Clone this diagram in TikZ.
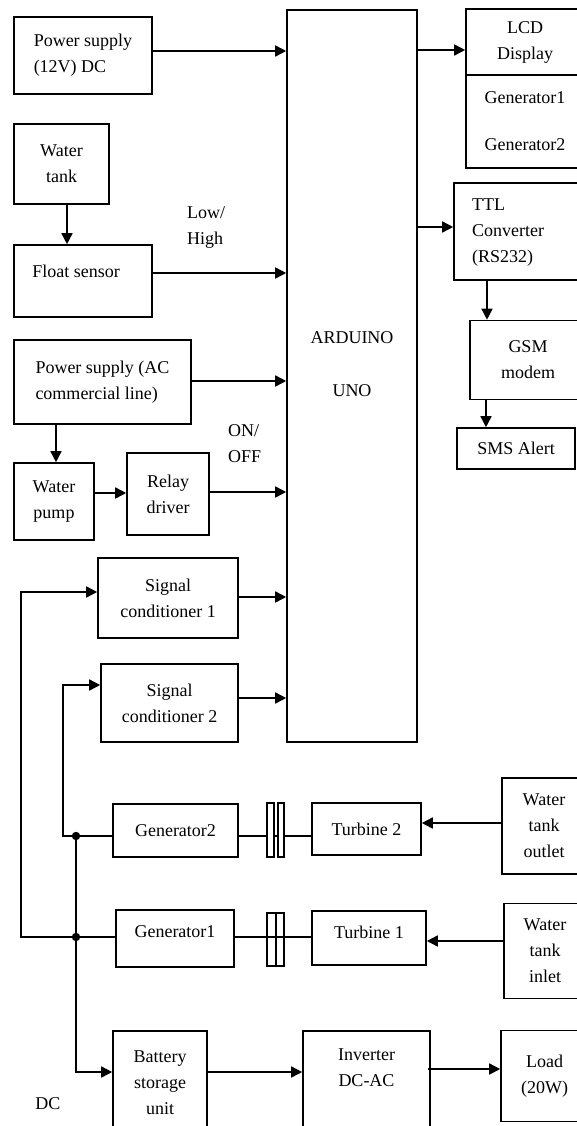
\documentclass[tikz,border=0pt]{standalone}
\usepackage{fontspec}
\setmainfont{Liberation Serif}
\usetikzlibrary{arrows.meta}
\newcommand\dfont{\fontsize{18}{26}\selectfont}
\begin{document}
\begin{tikzpicture}[x=1pt,y=-1pt,
  box/.style={draw, line width=1.6pt, inner sep=0pt, align=center, font=\dfont},
  txt/.style={inner sep=0pt, font=\dfont},
  cpl/.style={draw, line width=1.3pt, inner sep=0pt},
  wire/.style={line width=1.6pt},
  arr/.style={line width=1.6pt, -{Triangle[length=11pt,width=11pt]}}]
\useasboundingbox (0,0) rectangle (577,1126);
\clip (0,0) rectangle (577,1126);

% left column
\node[box, minimum width=138, minimum height=77, align=left] (ps1) at (83,55.5) {Power supply\\(12V) DC};
\node[box, minimum width=130, minimum height=732] (ard) at (352,376) {};
\node[txt] (ardt1) at (352,338) {ARDUINO};
\node[txt] (ardt2) at (352,391) {UNO};
\node[box, minimum width=95, minimum height=80] (wt) at (61.5,164) {Water\\tank};
\node[box, minimum width=138, minimum height=72] (fs) at (83,281) {};
\node[txt] (fst) at (76,271) {Float sensor};
\node[txt, align=left, anchor=west] (lh) at (187,228) {Low/\\High};
\node[box, minimum width=177, minimum height=84, align=left] (psac) at (102.5,382) {Power supply (AC\\commercial line)};
\node[box, minimum width=80, minimum height=77] (wp) at (54,501.5) {Water\\pump};
\node[box, minimum width=82, minimum height=82] (rd) at (168,494) {Relay\\driver};
\node[txt, align=left, anchor=west] (onoff) at (228,444) {ON/\\OFF};
\node[box, minimum width=140, minimum height=80] (sc1) at (168,598) {Signal\\conditioner 1};
\node[box, minimum width=137, minimum height=78] (sc2) at (169.5,703) {Signal\\conditioner 2};
\node[box, minimum width=125, minimum height=53] (g2) at (175.5,830.5) {Generator2};
\node[box, minimum width=118, minimum height=57] (g1) at (175,938.5) {};
\node[txt] (g1t) at (175,932) {Generator1};
\node[box, minimum width=109, minimum height=52] (t2) at (366.5,829) {Turbine 2};
\node[box, minimum width=114, minimum height=54] (t1) at (369,938) {};
\node[txt] (t1t) at (369,932) {Turbine 1};
\node[box, minimum width=84, minimum height=96] (wto) at (544,826) {Water\\tank\\outlet};
\node[box, minimum width=82, minimum height=95] (wti) at (545,951) {Water\\tank\\inlet};
\node[box, minimum width=94, minimum height=104] (bat) at (160,1083) {Battery\\storage\\unit};
\node[txt] (dc) at (48,1104) {DC};
\node[box, minimum width=127, minimum height=104] (inv) at (366.5,1083) {};
\node[txt, align=center] (invt) at (366.5,1068) {Inverter\\DC-AC};
\node[box, minimum width=87, minimum height=91] (load) at (544.5,1076) {Load\\(20W)};

% right column
\node[box, minimum width=118, minimum height=66] (lcdt) at (525,42) {LCD\\Display};
\node[box, minimum width=118, minimum height=93] (lcdb) at (525,121.5) {Generator1\\[21pt]Generator2};
\node[box, minimum width=134, minimum height=97] (ttl) at (521,231.5) {};
\node[txt, align=left, anchor=west] (ttlt) at (472,233) {TTL\\Converter\\(RS232)};
\node[box, minimum width=116, minimum height=79] (gsm) at (528,360) {GSM\\modem};
\node[box, minimum width=118, minimum height=41] (sms) at (516,448.5) {SMS Alert};

% couplings
\draw[wire] ([yshift=1.5]g1.east) -- ([yshift=1.5]g1.east -| t1.west);
\node[cpl, fill=white, minimum width=7, minimum height=54] (c2a) at (270.5,830) {};
\node[cpl, fill=white, minimum width=6, minimum height=54] (c2b) at (281,830) {};
\node[cpl, minimum width=9, minimum height=53] (c1a) at (271.5,939.5) {};
\node[cpl, minimum width=8, minimum height=53] (c1b) at (280,939.5) {};
\draw[wire] ([yshift=-5.5]g2.east) -- ([yshift=-5.5]g2.east -| c2a.west);
\draw[wire] ([yshift=-5.5]g2.east -| c2a.east) -- ([yshift=-5.5]g2.east -| c2b.west);
\draw[wire] ([yshift=-5.5]g2.east -| c2b.east) -- ([yshift=-5.5]g2.east -| t2.west);

% arrows into Arduino
\draw[arr] ([yshift=4.5]ps1.east) -- ([yshift=4.5]ps1.east -| ard.west);
\draw[arr] ([yshift=8]fs.east) -- ([yshift=8]fs.east -| ard.west);
\draw[arr] ([yshift=1]psac.east) -- ([yshift=1]psac.east -| ard.west);
\draw[arr] ([yshift=2]rd.east) -- ([yshift=2]rd.east -| ard.west);
\draw[arr] ([yshift=1]sc1.east) -- ([yshift=1]sc1.east -| ard.west);
\draw[arr] ([yshift=5]sc2.east) -- ([yshift=5]sc2.east -| ard.west);

\draw[arr] ([xshift=5.5]wt.south) -- ([xshift=5.5]wt.south |- fs.north);
\draw[arr] ([xshift=2]wp.north |- psac.south) -- ([xshift=2]wp.north);
\draw[arr] ([yshift=8.5]wp.east) -- ([yshift=8.5]wp.east -| rd.west);

% Arduino outputs
\draw[arr] ([yshift=-8]lcdt.west -| ard.east) -- ([yshift=-8]lcdt.west);
\draw[arr] ([yshift=4.5]ttl.west -| ard.east) -- ([yshift=4.5]ttl.west);
\draw[arr] ([xshift=-41]gsm.north |- ttl.south) -- ([xshift=-41]gsm.north);
\draw[arr] ([xshift=-30]sms.north |- gsm.south) -- ([xshift=-30]sms.north);

% water tanks to turbines
\draw[arr] ([yshift=6]t2.east -| wto.west) -- ([yshift=6]t2.east);
\draw[arr] ([yshift=-3]t1.east -| wti.west) -- ([yshift=-3]t1.east);

% bottom chain
\draw[arr] ([yshift=11]bat.east) -- ([yshift=11]bat.east -| inv.west);
\draw[arr] ([yshift=14,xshift=-3]inv.east) -- ([yshift=14]inv.east -| load.west);

% left wiring
\coordinate (j2) at (76,836);
\coordinate (j1) at (76,937);
\coordinate (l1) at (21,937);
\coordinate (l2) at (63,836);
\coordinate (sc1in) at ([yshift=6]sc1.west);
\coordinate (sc2in) at ([yshift=18]sc2.west);
\coordinate (batin) at ([yshift=11]bat.west);
\draw[arr] ([yshift=1.5]g1.west) -- (l1) -- (l1 |- sc1in) -- (sc1in);
\draw[arr] ([yshift=-5.5]g2.west) -- (l2) -- (l2 |- sc2in) -- (sc2in);
\draw[arr] (j2) -- (j1 |- batin) -- (batin);
\fill (j1) circle[radius=4.2pt];
\fill (j2) circle[radius=4.2pt];
\end{tikzpicture}
\end{document}
